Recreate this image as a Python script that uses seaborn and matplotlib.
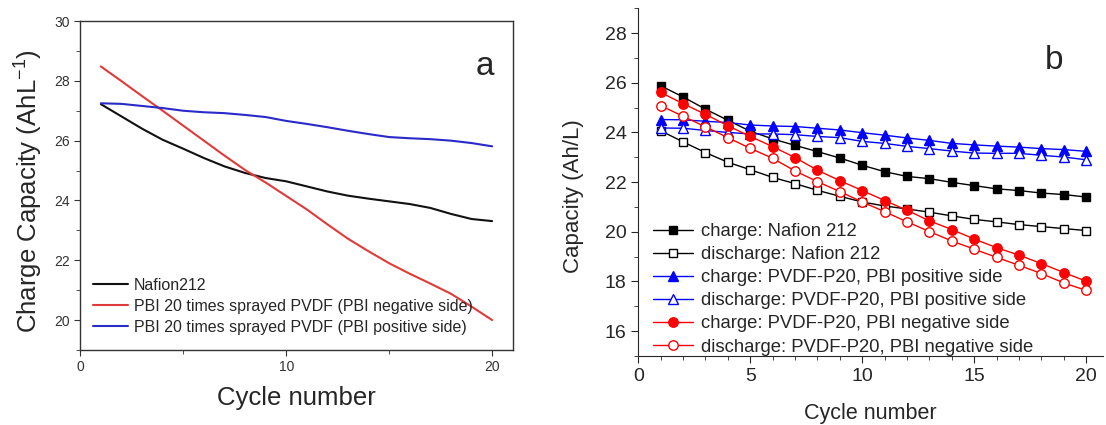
import matplotlib
matplotlib.use("Agg")
import matplotlib.pyplot as plt
import seaborn as sns
from matplotlib.ticker import MultipleLocator

# cycle numbers
cycles = list(range(1, 21))

# panel a: smoothed charge capacity curves (AhL-1)
nafion_a = [27.22, 26.81, 26.40, 26.03, 25.73, 25.42, 25.14, 24.92, 24.75, 24.64,
            24.47, 24.30, 24.16, 24.06, 23.97, 23.88, 23.75, 23.55, 23.38, 23.31]
pbi_neg_a = [28.48, 27.99, 27.49, 27.00, 26.50, 26.00, 25.50, 25.02, 24.60, 24.15,
             23.70, 23.20, 22.72, 22.30, 21.90, 21.55, 21.22, 20.88, 20.45, 20.00]
pbi_pos_a = [27.25, 27.23, 27.16, 27.09, 27.00, 26.95, 26.92, 26.86, 26.79, 26.66,
             26.56, 26.45, 26.33, 26.22, 26.12, 26.08, 26.05, 26.00, 25.92, 25.81]
labels_a = ["Nafion212",
            "PBI 20 times sprayed PVDF (PBI negative side)",
            "PBI 20 times sprayed PVDF (PBI positive side)"]

# panel b: charge / discharge capacity (Ah/L)
chg_nafion = [25.88, 25.43, 24.94, 24.49, 24.05, 23.74, 23.48, 23.23, 22.97, 22.68,
              22.42, 22.23, 22.14, 21.99, 21.86, 21.73, 21.66, 21.56, 21.50, 21.40]
dis_nafion = [24.07, 23.62, 23.19, 22.80, 22.50, 22.19, 21.94, 21.67, 21.43, 21.20,
              21.04, 20.92, 20.79, 20.64, 20.50, 20.40, 20.29, 20.21, 20.13, 20.05]
chg_pos = [24.52, 24.51, 24.45, 24.40, 24.30, 24.26, 24.24, 24.17, 24.10, 23.99,
           23.89, 23.78, 23.68, 23.56, 23.50, 23.45, 23.41, 23.35, 23.31, 23.24]
dis_pos = [24.18, 24.17, 24.08, 24.00, 23.94, 23.94, 23.91, 23.84, 23.79, 23.64,
           23.56, 23.44, 23.35, 23.25, 23.17, 23.16, 23.16, 23.08, 23.01, 22.90]
chg_neg = [25.61, 25.16, 24.73, 24.27, 23.84, 23.43, 22.99, 22.48, 22.06, 21.66,
           21.26, 20.87, 20.44, 20.09, 19.71, 19.36, 19.06, 18.72, 18.36, 18.01]
dis_neg = [25.08, 24.65, 24.23, 23.79, 23.36, 22.96, 22.45, 22.02, 21.62, 21.20,
           20.81, 20.40, 20.01, 19.63, 19.30, 18.97, 18.65, 18.32, 17.94, 17.64]
labels_b = ["charge: Nafion 212",
            "discharge: Nafion 212",
            "charge: PVDF-P20, PBI positive side",
            "discharge: PVDF-P20, PBI positive side",
            "charge: PVDF-P20, PBI negative side",
            "discharge: PVDF-P20, PBI negative side"]

sns.set_style("ticks")
plt.rcParams['font.family'] = ['Liberation Sans', 'DejaVu Sans']
plt.rcParams['mathtext.fontset'] = 'custom'
plt.rcParams['mathtext.rm'] = 'Liberation Sans'

fig = plt.figure(figsize=(11.06, 4.25), dpi=100)
ax_a = fig.add_axes([0.0726, 0.1765, 0.391, 0.774])
ax_b = fig.add_axes([0.5771, 0.1624, 0.4202, 0.8181])

# ---- panel a ----
for vals, col, lab in zip([nafion_a, pbi_neg_a, pbi_pos_a],
                          ["#111111", "#e03a3a", "#2a2ac8"], labels_a):
    sns.lineplot(x=cycles, y=vals, ax=ax_a, color=col, linewidth=1.5, label=lab)

ax_a.set_xlim(0, 21)
ax_a.set_ylim(19, 30)
ax_a.xaxis.set_major_locator(MultipleLocator(10))
ax_a.xaxis.set_minor_locator(MultipleLocator(5))
ax_a.yaxis.set_major_locator(MultipleLocator(2))
ax_a.yaxis.set_minor_locator(MultipleLocator(1))
ax_a.tick_params(which='both', direction='out', labelsize=10, colors='#333333')
ax_a.tick_params(which='major', length=4)
ax_a.tick_params(which='minor', length=3)
for s in ax_a.spines.values():
    s.set_color('#333333')
    s.set_linewidth(1.0)
ax_a.set_xlabel("Cycle number", fontsize=18.5, labelpad=8)
ax_a.set_ylabel("Charge Capacity (AhL$^{-1}$)", fontsize=18.5, labelpad=7)
ax_a.yaxis.label.set_y(0.484)
ax_a.text(0.935, 0.862, "a", transform=ax_a.transAxes, fontsize=24, ha='center', va='center')
ax_a.legend(loc='lower left', frameon=False, fontsize=11.5, handlelength=2.2,
            handletextpad=0.35, labelspacing=0.37, borderaxespad=0.4,
            bbox_to_anchor=(0.0, 0.007))

# ---- panel b ----
styles_b = [
    (chg_nafion, 'black', 's', 'black', 6.0),
    (dis_nafion, 'black', 's', 'white', 6.0),
    (chg_pos, 'blue', '^', 'blue', 7.0),
    (dis_pos, 'blue', '^', 'white', 7.0),
    (chg_neg, 'red', 'o', 'red', 6.8),
    (dis_neg, 'red', 'o', 'white', 6.8),
]
for (vals, col, mk, fc, ms), lab in zip(styles_b, labels_b):
    sns.lineplot(x=cycles, y=vals, ax=ax_b, color=col, linewidth=1.0, marker=mk,
                 markersize=ms, markerfacecolor=fc, markeredgecolor=col,
                 markeredgewidth=1.0, label=lab)

ax_b.set_xlim(0, 20.75)
ax_b.set_ylim(15, 29)
ax_b.xaxis.set_major_locator(MultipleLocator(5))
ax_b.xaxis.set_minor_locator(MultipleLocator(1))
ax_b.yaxis.set_major_locator(MultipleLocator(2))
ax_b.yaxis.set_minor_locator(MultipleLocator(1))
ax_b.tick_params(which='both', direction='out', labelsize=14)
ax_b.tick_params(which='major', length=5)
ax_b.tick_params(which='minor', length=3)
sns.despine(ax=ax_b)
ax_b.set_xlabel("Cycle number", fontsize=15.5, labelpad=13)
ax_b.set_ylabel("Capacity (Ah/L)", fontsize=16, labelpad=15)
ax_b.yaxis.label.set_y(0.46)
ax_b.text(0.895, 0.85, "b", transform=ax_b.transAxes, fontsize=24, ha='center', va='center')
ax_b.legend(loc='lower left', frameon=False, fontsize=13.3, handlelength=2.2,
            handletextpad=0.4, labelspacing=0.33, borderaxespad=0.0,
            bbox_to_anchor=(0.015, -0.02))

fig.savefig("out.png", dpi=100)
